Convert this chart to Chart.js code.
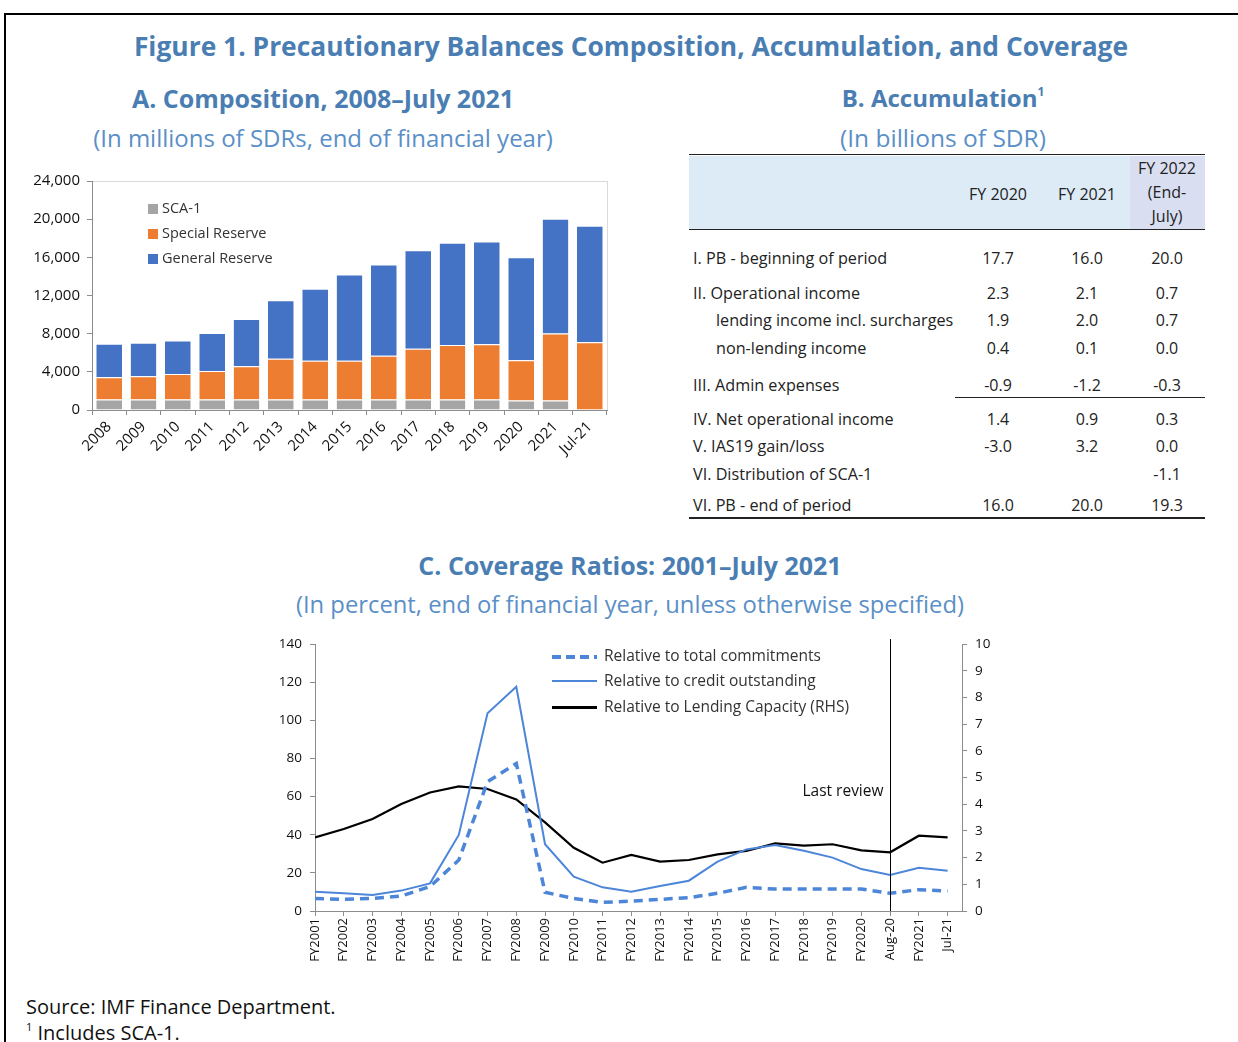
<!DOCTYPE html>
<html>
<head>
<meta charset="utf-8">
<script src="https://cdn.jsdelivr.net/npm/chart.js@4.4.1/dist/chart.umd.min.js"></script>
<style>
  body { margin: 0; width: 1238px; height: 1042px; background: #fff; overflow: hidden; position: relative; font-family: "Open Sans", sans-serif; color: #222; }
  .frame { position: absolute; left: 4px; top: 13px; width: 1300px; height: 1100px; border-left: 2px solid #000; border-top: 2px solid #000; }
  .t { position: absolute; white-space: nowrap; }
  .c { text-align: center; }
  .title { color: #4a7eb3; font-weight: 700; }
  .sub { color: #5b8fc7; }
  canvas { position: absolute; }
  .leg { position: absolute; font-size: 14.5px; color: #333; white-space: nowrap; line-height: 18px; }
</style>
</head>
<body>
<div class="frame"></div>

<div class="t c title" style="left:131px;width:1000px;top:28px;font-size:26.4px;">Figure 1. Precautionary Balances Composition, Accumulation, and Coverage</div>
<div class="t c title" style="left:73px;width:500px;top:81px;font-size:25px;">A. Composition, 2008–July 2021</div>
<div class="t c sub" style="left:23px;width:600px;top:121px;font-size:24px;">(In millions of SDRs, end of financial year)</div>
<div class="t c title" style="left:693px;width:500px;top:81px;font-size:24px;">B. Accumulation<sup style="font-size:12px;vertical-align:11px;">1</sup></div>
<div class="t c sub" style="left:693px;width:500px;top:121px;font-size:24.5px;">(In billions of SDR)</div>
<div class="t c title" style="left:380px;width:500px;top:548px;font-size:25px;">C. Coverage Ratios: 2001–July 2021</div>
<div class="t c sub" style="left:230px;width:800px;top:588px;font-size:23.8px;">(In percent, end of financial year, unless otherwise specified)</div>

<div id="tableB"></div>

<canvas id="compChart" width="600" height="305" style="left:20px;top:165px;"></canvas>
<div id="compLegend"></div>

<canvas id="coverChart" width="760" height="346" style="left:250px;top:628px;"></canvas>
<div id="coverLegend"></div>

<div class="t" style="left:26px;top:993px;font-size:20px;color:#111;">Source: IMF Finance Department.</div>
<div class="t" style="left:26px;top:1019px;font-size:20px;color:#111;"><sup style="font-size:11px;vertical-align:9px;">1</sup> Includes SCA-1.</div>

<script>
// ---- Panel A data (millions of SDRs)
const compYears = ['2008', '2009', '2010', '2011', '2012', '2013', '2014', '2015', '2016', '2017', '2018', '2019', '2020', '2021', 'Jul-21'];
const sca1 = [1100, 1100, 1100, 1100, 1100, 1100, 1100, 1100, 1100, 1100, 1100, 1100, 1000, 1000, 0];
const specialReserve = [2330, 2440, 2680, 3000, 3490, 4260, 4050, 4050, 4580, 5310, 5700, 5800, 4220, 7020, 7110];
const generalReserve = [3510, 3500, 3510, 3960, 4940, 6130, 7570, 9040, 9560, 10340, 10720, 10760, 10790, 12020, 12200];
const compTicks = [0, 4000, 8000, 12000, 16000, 20000, 24000];

// ---- Panel B data (billions of SDR)
const tableCols = ['FY 2020', 'FY 2021', 'FY 2022'];
const tableRows = ['I. PB - beginning of period', 'II. Operational income', 'lending income incl. surcharges', 'non-lending income',
  'III. Admin expenses', 'IV. Net operational income', 'V. IAS19 gain/loss', 'VI. Distribution of SCA-1', 'VI. PB - end of period'];
const fy2020 = ['17.7', '2.3', '1.9', '0.4', '-0.9', '1.4', '-3.0', '', '16.0'];
const fy2021 = ['16.0', '2.1', '2.0', '0.1', '-1.2', '0.9', '3.2', '', '20.0'];
const fy2022 = ['20.0', '0.7', '0.7', '0.0', '-0.3', '0.3', '0.0', '-1.1', '19.3'];

// ---- Panel C data
const coverLabels = ['FY2001', 'FY2002', 'FY2003', 'FY2004', 'FY2005', 'FY2006', 'FY2007', 'FY2008', 'FY2009', 'FY2010', 'FY2011', 'FY2012',
  'FY2013', 'FY2014', 'FY2015', 'FY2016', 'FY2017', 'FY2018', 'FY2019', 'FY2020', 'Aug-20', 'FY2021', 'Jul-21'];
const totalCommitments = [6.6, 6.1, 6.6, 7.9, 12.8, 26.7, 67.8, 77.4, 9.8, 6.6, 4.5, 5.2, 6.1, 7.0, 9.3, 12.4, 11.5, 11.5, 11.5, 11.5, 9.3, 11.2, 10.5];
const creditOutstanding = [10.1, 9.3, 8.4, 10.7, 14.5, 39.9, 103.7, 117.6, 35.0, 18.0, 12.4, 10.1, 13.1, 15.9, 25.9, 32.3, 34.6, 31.6, 28.0, 22.0, 18.9, 22.7, 21.1];
const lendingCapacity = [2.76, 3.07, 3.45, 4.01, 4.44, 4.67, 4.57, 4.18, 3.32, 2.37, 1.81, 2.10, 1.85, 1.91, 2.12, 2.25, 2.53, 2.45, 2.50, 2.27, 2.20, 2.82, 2.76];
const lastReviewIndex = 20;

const AxisGray = '#8c8c8c';
const FontFamily = '"Open Sans", sans-serif';

// ---- table B
const TableBox = document.getElementById('tableB');
function AddDiv(html, style) {
  const d = document.createElement('div');
  d.className = 't';
  d.innerHTML = html;
  d.setAttribute('style', style);
  TableBox.appendChild(d);
  return d;
}
AddDiv('', 'left:689px;top:156px;width:441px;height:73px;background:#ddebf7;');
AddDiv('', 'left:1130px;top:156px;width:75px;height:73px;background:#d9dff1;');
AddDiv('', 'left:689px;top:154px;width:516px;height:0;border-top:1.5px solid #222;');
AddDiv('', 'left:689px;top:229px;width:516px;height:0;border-top:1.5px solid #222;');
AddDiv('', 'left:955px;top:397px;width:250px;height:0;border-top:1px solid #222;');
AddDiv('', 'left:689px;top:517px;width:516px;height:0;border-top:2px solid #222;');
const ColCenters = [998, 1087, 1167];
const CellFont = 'font-size:16px;';
AddDiv(tableCols[0], `left:${ColCenters[0] - 50}px;top:183px;width:100px;text-align:center;${CellFont}`);
AddDiv(tableCols[1], `left:${ColCenters[1] - 50}px;top:183px;width:100px;text-align:center;${CellFont}`);
AddDiv(tableCols[2] + '<br>(End-<br>July)', `left:${ColCenters[2] - 50}px;top:156px;width:100px;text-align:center;${CellFont}line-height:24px;`);
const RowY = [258, 293, 320, 348, 385, 419, 446, 474, 505];
const Indented = [false, false, true, true, false, false, false, false, false];
tableRows.forEach((label, i) => {
  const y = RowY[i] - 11;
  AddDiv(label, `left:${Indented[i] ? 716 : 693}px;top:${y}px;font-size:16.2px;line-height:22px;`);
  [fy2020, fy2021, fy2022].forEach((col, j) => {
    AddDiv(col[i], `left:${ColCenters[j] - 50}px;top:${y}px;width:100px;text-align:center;${CellFont}line-height:22px;`);
  });
});

// ---- plugin: light border round the plot area
const PlotBorder = {
  id: 'plotBorder',
  beforeDraw(chart) {
    const { ctx, chartArea } = chart;
    ctx.save();
    ctx.strokeStyle = '#d9d9d9';
    ctx.lineWidth = 1;
    ctx.strokeRect(chartArea.left + 0.5, chartArea.top + 0.5, chartArea.right - chartArea.left, chartArea.bottom - chartArea.top);
    ctx.restore();
  }
};

// ---- Panel A chart
const CompColors = ['#a5a5a5', '#ed7d31', '#4472c4'];
const CompNames = ['SCA-1', 'Special Reserve', 'General Reserve'];
new Chart(document.getElementById('compChart'), {
  type: 'bar',
  data: {
    labels: compYears,
    datasets: [sca1, specialReserve, generalReserve].map((d, i) => ({
      label: CompNames[i],
      data: d,
      backgroundColor: CompColors[i],
      borderColor: '#ffffff',
      borderWidth: { top: 1, left: 0, right: 0, bottom: 0 },
      borderSkipped: false,
      barPercentage: 0.75,
      categoryPercentage: 1.0
    }))
  },
  options: {
    responsive: false,
    animation: false,
    layout: { padding: { top: 8, right: 13, left: 0, bottom: 0 } },
    plugins: { legend: { display: false }, tooltip: { enabled: false } },
    scales: {
      x: {
        stacked: true,
        afterFit(scale) { scale.height = 60; },
        grid: { drawOnChartArea: false, tickLength: 5, color: AxisGray, offset: true },
        border: { color: AxisGray },
        ticks: { maxRotation: 45, minRotation: 45, color: '#111', font: { family: FontFamily, size: 15 }, padding: 3 }
      },
      y: {
        stacked: true,
        min: 0, max: 24000,
        afterFit(scale) { scale.width = 72; },
        afterBuildTicks(scale) { scale.ticks = compTicks.map(v => ({ value: v })); },
        grid: { drawOnChartArea: false, tickLength: 5, color: AxisGray },
        border: { color: AxisGray },
        ticks: { color: '#111', font: { family: FontFamily, size: 15 }, padding: 7, callback: v => v.toLocaleString('en-US') }
      }
    }
  },
  plugins: [PlotBorder]
});

const CompLegend = document.getElementById('compLegend');
CompNames.forEach((name, i) => {
  const d = document.createElement('div');
  d.className = 'leg';
  d.style.left = '148px';
  d.style.top = (199 + i * 25) + 'px';
  d.innerHTML = `<span style="display:inline-block;width:10px;height:10px;background:${CompColors[i]};margin-right:4px;vertical-align:-1px;"></span>${name}`;
  CompLegend.appendChild(d);
});

// ---- plugin: "Last review" marker
const LastReview = {
  id: 'lastReview',
  afterDatasetsDraw(chart) {
    const { ctx, chartArea, scales } = chart;
    const x = Math.round(scales.x.getPixelForValue(lastReviewIndex)) + 0.5;
    ctx.save();
    ctx.strokeStyle = '#000';
    ctx.lineWidth = 1;
    ctx.beginPath();
    ctx.moveTo(x, chartArea.top - 5);
    ctx.lineTo(x, chartArea.bottom);
    ctx.stroke();
    ctx.fillStyle = '#111';
    ctx.font = '15.5px ' + FontFamily;
    ctx.textAlign = 'right';
    ctx.textBaseline = 'middle';
    ctx.fillText('Last review', x - 7, scales.y.getPixelForValue(62.5));
    ctx.restore();
  }
};

// ---- Panel C chart
const LineBlue = '#4d86d8';
const CoverNames = ['Relative to total commitments', 'Relative to credit outstanding', 'Relative to Lending Capacity (RHS)'];
const ToPoints = arr => arr.map((v, i) => ({ x: i, y: v }));
new Chart(document.getElementById('coverChart'), {
  type: 'line',
  data: {
    datasets: [
      { label: CoverNames[0], data: ToPoints(totalCommitments), borderColor: LineBlue, borderWidth: 3.5, borderDash: [9, 6], pointRadius: 0, yAxisID: 'y', tension: 0 },
      { label: CoverNames[1], data: ToPoints(creditOutstanding), borderColor: LineBlue, borderWidth: 2, pointRadius: 0, yAxisID: 'y', tension: 0 },
      { label: CoverNames[2], data: ToPoints(lendingCapacity), borderColor: '#000', borderWidth: 2.2, pointRadius: 0, yAxisID: 'y2', tension: 0 }
    ]
  },
  options: {
    responsive: false,
    animation: false,
    layout: { padding: { top: 4, right: 0, left: 0, bottom: 0 } },
    plugins: { legend: { display: false }, tooltip: { enabled: false } },
    scales: {
      x: {
        type: 'linear',
        min: 0, max: 22.5,
        afterFit(scale) { scale.height = 63; },
        afterBuildTicks(scale) { scale.ticks = coverLabels.map((_, i) => ({ value: i })); },
        grid: { drawOnChartArea: false, tickLength: 5, color: AxisGray },
        border: { color: AxisGray },
        ticks: { autoSkip: false, maxRotation: 90, minRotation: 90, color: '#111', font: { family: FontFamily, size: 13 }, padding: 2, callback: v => coverLabels[v] }
      },
      y: {
        position: 'left',
        min: 0, max: 140,
        afterFit(scale) { scale.width = 65; },
        ticks: { stepSize: 20, color: '#111', font: { family: FontFamily, size: 13.5 }, padding: 8 },
        grid: { drawOnChartArea: false, tickLength: 5, color: AxisGray },
        border: { color: AxisGray }
      },
      y2: {
        position: 'right',
        min: 0, max: 10,
        afterFit(scale) { scale.width = 48; },
        ticks: { stepSize: 1, color: '#111', font: { family: FontFamily, size: 13.5 }, padding: 8 },
        grid: { drawOnChartArea: false, tickLength: 5, color: AxisGray },
        border: { color: AxisGray }
      }
    }
  },
  plugins: [LastReview]
});

const CoverLegend = document.getElementById('coverLegend');
const CoverSamples = [
  `background:repeating-linear-gradient(to right, ${LineBlue} 0 9px, transparent 9px 14px);height:3.5px;`,
  `background:${LineBlue};height:2px;`,
  'background:#000;height:2.5px;'
];
CoverNames.forEach((name, i) => {
  const y = [656, 681, 707][i];
  const s = document.createElement('div');
  s.setAttribute('style', `position:absolute;left:552px;top:${y - 1}px;width:45px;${CoverSamples[i]}`);
  CoverLegend.appendChild(s);
  const d = document.createElement('div');
  d.className = 'leg';
  d.style.left = '604px';
  d.style.top = (y - 10) + 'px';
  d.style.fontSize = '15.5px';
  d.textContent = name;
  CoverLegend.appendChild(d);
});
</script>
</body>
</html>
